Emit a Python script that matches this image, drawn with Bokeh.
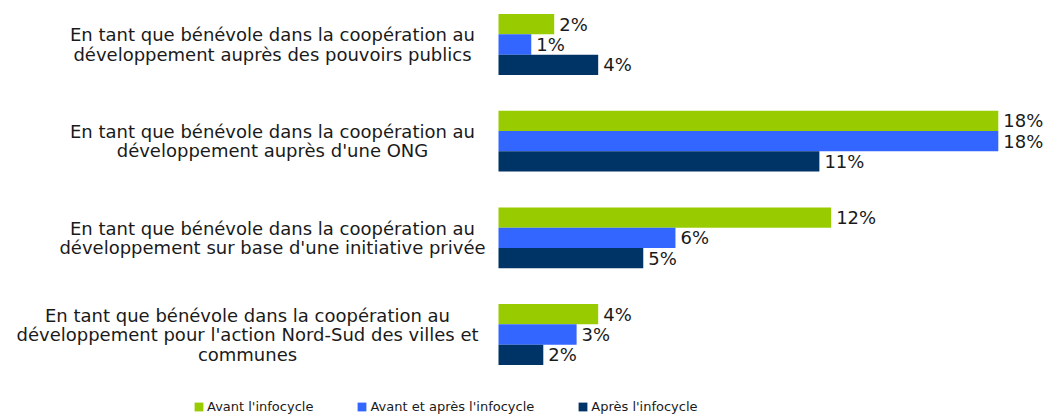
from bokeh.plotting import figure
from bokeh.models import ColumnDataSource, Range1d
from bokeh.embed import file_html
from bokeh.resources import INLINE
from bokeh.core.properties import value

# ---------------- data ----------------
categories = [
    "En tant que bénévole dans la coopération au\ndéveloppement auprès des pouvoirs publics",
    "En tant que bénévole dans la coopération au\ndéveloppement auprès d'une ONG",
    "En tant que bénévole dans la coopération au\ndéveloppement sur base d'une initiative privée",
    "En tant que bénévole dans la coopération au\ndéveloppement pour l'action Nord-Sud des villes et\ncommunes",
]
series_names = ["Avant l'infocycle", "Avant et après l'infocycle", "Après l'infocycle"]
avant = [1.99, 17.85, 11.88, 3.56]
avant_et_apres = [1.17, 17.85, 6.32, 2.79]
apres = [3.56, 11.46, 5.17, 1.60]
series_values = [avant, avant_et_apres, apres]
colors = ["#99CC00", "#3366FF", "#003366"]

# ---------------- layout ----------------
W, H = 1045, 414
PX_PER_UNIT_X = 28.0
ZERO_X = 498.0
PX_PER_CAT = 96.67
FONT = "DejaVu Sans"
TXT = "#1a1a1a"
label_center_px = [-226, -226, -226, -251]

top_center = 44.0
y_end = (len(categories) - 1) + top_center / PX_PER_CAT
y_start = y_end - H / PX_PER_CAT

p = figure(
    width=W, height=H,
    x_range=Range1d(-ZERO_X / PX_PER_UNIT_X, (W - ZERO_X) / PX_PER_UNIT_X),
    y_range=Range1d(y_start, y_end),
    x_axis_location=None, y_axis_location=None,
    output_backend="svg", toolbar_location=None, min_border=0,
)
p.grid.visible = False
p.outline_line_color = None
p.background_fill_color = "white"
p.border_fill_color = "white"

n = len(categories)
ycat = [n - 1 - i for i in range(n)]
bar_h = 0.21
offsets = [bar_h, 0.0, -bar_h]

for k, (name, vals, col) in enumerate(zip(series_names, series_values, colors)):
    ys = [y + offsets[k] for y in ycat]
    src = ColumnDataSource(dict(
        y=ys, right=vals, left=[0] * n,
        label=[f"{round(v)}%" for v in vals],
    ))
    p.hbar(y="y", left="left", right="right", height=bar_h, source=src,
           fill_color=col, line_color=None, legend_label=name)
    p.text(x="right", y="y", text="label", source=src, x_offset=5,
           text_align="left", text_baseline="middle",
           text_font=value(FONT), text_font_size="18px", text_color=TXT)

# category labels (multi-line, centred)
line_h = 19.5
lx, ly, lt, lo, lxo = [], [], [], [], []
for i, cat in enumerate(categories):
    lines = cat.split("\n")
    m = len(lines)
    for j, ln in enumerate(lines):
        lx.append(0)
        ly.append(ycat[i])
        lt.append(ln)
        lo.append((j - (m - 1) / 2) * line_h)
        lxo.append(label_center_px[i])
lsrc = ColumnDataSource(dict(x=lx, y=ly, text=lt, yo=lo, xo=lxo))
p.text(x="x", y="y", text="text", source=lsrc, x_offset="xo", y_offset="yo",
       text_align="center", text_baseline="middle",
       text_font=value(FONT), text_font_size="18px", text_color=TXT)

leg = p.legend[0]
leg.location = (193, 0)
leg.orientation = "horizontal"
leg.spacing = 43
leg.glyph_width = 11
leg.glyph_height = 11
leg.label_height = 11
leg.label_standoff = 3
leg.padding = 0
leg.margin = 0
leg.border_line_color = None
leg.background_fill_alpha = 0
leg.label_text_font = FONT
leg.label_text_font_size = "13px"
leg.label_text_color = TXT

open("out.html", "w").write(file_html(p, INLINE))
